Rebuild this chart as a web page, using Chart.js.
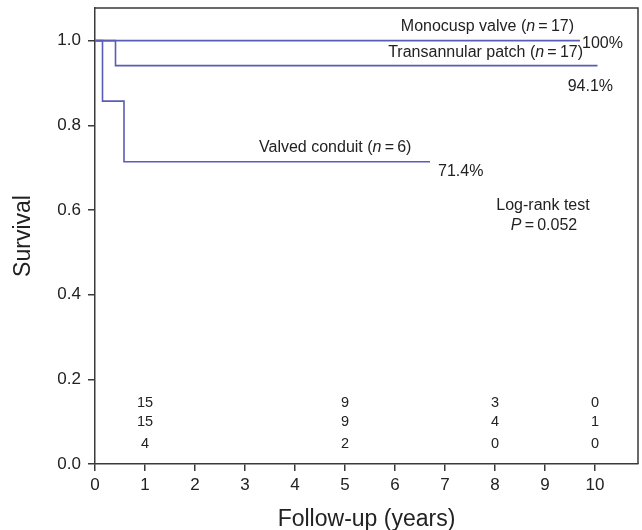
<!DOCTYPE html>
<html>
<head>
<meta charset="utf-8">
<script src="https://cdn.jsdelivr.net/npm/chart.js@4.4.1/dist/chart.umd.min.js"></script>
<style>
html, body { margin: 0; padding: 0; background: #fff; }
#wrap { width: 642px; height: 530px; }
</style>
</head>
<body>
<div id="wrap"><canvas id="km" width="642" height="530"></canvas></div>
<script>
// Kaplan-Meier curves (years, survival)
const monoX = [0, 9.7]
const monoY = [1, 1]
const transX = [0, 0.41, 10.05]
const transY = [1, 0.941, 0.941]
const valvedX = [0, 0.15, 0.58, 6.7]
const valvedY = [1, 0.857, 0.714, 0.714]

// number at risk
const riskYears = [1, 5, 8, 10]
const riskMono = [15, 9, 3, 0]
const riskTrans = [15, 9, 4, 1]
const riskValved = [4, 2, 0, 0]

const xTicks = [0, 1, 2, 3, 4, 5, 6, 7, 8, 9, 10]
const yTicks = [0, 0.2, 0.4, 0.6, 0.8, 1.0]

const lineColor = '#5a5db5'
const axisColor = '#3a3a3a'
const fontFamily = '"Liberation Sans", Arial, Helvetica, sans-serif'

const toPoints = (xs, ys) => xs.map((x, i) => ({ x: x, y: ys[i] }))

const curve = (xs, ys) => ({
  data: toPoints(xs, ys),
  stepped: 'before',
  borderColor: lineColor,
  borderWidth: 1.6,
  pointRadius: 0,
  fill: false
})

// text pieces: [text, italic]
const n = (pre, post) => [[pre, false], ['n', true], [post, false]]
const notes = [
  { x: 9.58, y: 1.033, align: 'right', parts: n('Monocusp valve (', '\u2009=\u200917)') },
  { x: 9.74, y: 0.993, align: 'left', parts: [['100%', false]] },
  { x: 9.76, y: 0.971, align: 'right', parts: n('Transannular patch (', '\u2009=\u200917)') },
  { x: 10.36, y: 0.891, align: 'right', parts: [['94.1%', false]] },
  { x: 3.28, y: 0.747, align: 'left', parts: n('Valved conduit (', '\u2009=\u20096)') },
  { x: 6.86, y: 0.690, align: 'left', parts: [['71.4%', false]] },
  { x: 8.96, y: 0.610, align: 'center', parts: [['Log-rank test', false]] },
  { x: 8.98, y: 0.563, align: 'center', parts: [['P', true], ['\u2009=\u20090.052', false]] }
]

const drawParts = (ctx, parts, x, y, align, size) => {
  const fonts = parts.map(p => (p[1] ? 'italic ' : '') + size + 'px ' + fontFamily)
  const widths = parts.map((p, i) => { ctx.font = fonts[i]; return ctx.measureText(p[0]).width })
  const total = widths.reduce((a, b) => a + b, 0)
  let cx = align === 'right' ? x - total : align === 'center' ? x - total / 2 : x
  ctx.textAlign = 'left'
  ctx.textBaseline = 'middle'
  parts.forEach((p, i) => {
    ctx.font = fonts[i]
    ctx.fillText(p[0], cx, y)
    cx += widths[i]
  })
}

const decor = {
  id: 'decor',
  afterDraw(chart) {
    const ctx = chart.ctx
    const a = chart.chartArea
    const xs = chart.scales.x
    const ys = chart.scales.y
    ctx.save()
    // box around plot
    ctx.strokeStyle = axisColor
    ctx.lineWidth = 1.5
    ctx.beginPath()
    ctx.moveTo(a.left, a.top)
    ctx.lineTo(a.right, a.top)
    ctx.lineTo(a.right, a.bottom)
    ctx.stroke()

    ctx.fillStyle = '#222'
    // number at risk rows
    const rows = [riskMono, riskTrans, riskValved]
    const rowY = [0.144, 0.099, 0.047]
    rows.forEach((row, r) => {
      row.forEach((v, i) => {
        drawParts(ctx, [[String(v), false]], xs.getPixelForValue(riskYears[i]), ys.getPixelForValue(rowY[r]), 'center', 14.5)
      })
    })
    // labels
    notes.forEach(t => {
      drawParts(ctx, t.parts, xs.getPixelForValue(t.x), ys.getPixelForValue(t.y), t.align, 16)
    })
    ctx.restore()
  }
}

Chart.defaults.font.family = fontFamily
Chart.defaults.color = '#222'

new Chart(document.getElementById('km'), {
  type: 'line',
  data: {
    datasets: [curve(monoX, monoY), curve(transX, transY), curve(valvedX, valvedY)]
  },
  options: {
    responsive: false,
    animation: false,
    devicePixelRatio: 1,
    layout: { padding: { top: 8, right: 4, left: 0, bottom: 0 } },
    plugins: { legend: { display: false }, tooltip: { enabled: false } },
    scales: {
      x: {
        type: 'linear',
        min: 0,
        max: 10.86,
        afterBuildTicks: s => { s.ticks = xTicks.map(v => ({ value: v })) },
        afterFit: s => { s.height = 66 },
        grid: { drawOnChartArea: false, drawTicks: true, tickLength: 7, color: axisColor, lineWidth: 1.5 },
        border: { display: true, color: axisColor, width: 1.5 },
        ticks: { font: { size: 17 }, color: '#222', padding: 4, maxRotation: 0 },
        title: { display: true, text: 'Follow-up (years)', font: { size: 23, lineHeight: 0.9 }, color: '#222', padding: 0 }
      },
      y: {
        min: 0,
        max: 1.077,
        afterBuildTicks: s => { s.ticks = yTicks.map(v => ({ value: v })) },
        afterFit: s => { s.width = 95; s.paddingTop = 0; s.paddingBottom = 0 },
        grid: { drawOnChartArea: false, drawTicks: true, tickLength: 7, color: axisColor, lineWidth: 1.5 },
        border: { display: true, color: axisColor, width: 1.5 },
        ticks: { font: { size: 17 }, color: '#222', padding: 7, callback: v => v.toFixed(1) },
        title: { display: true, text: 'Survival', font: { size: 23, lineHeight: 1 }, color: '#222', padding: { top: 12, bottom: 0 } }
      }
    }
  },
  plugins: [decor]
})
</script>
</body>
</html>
